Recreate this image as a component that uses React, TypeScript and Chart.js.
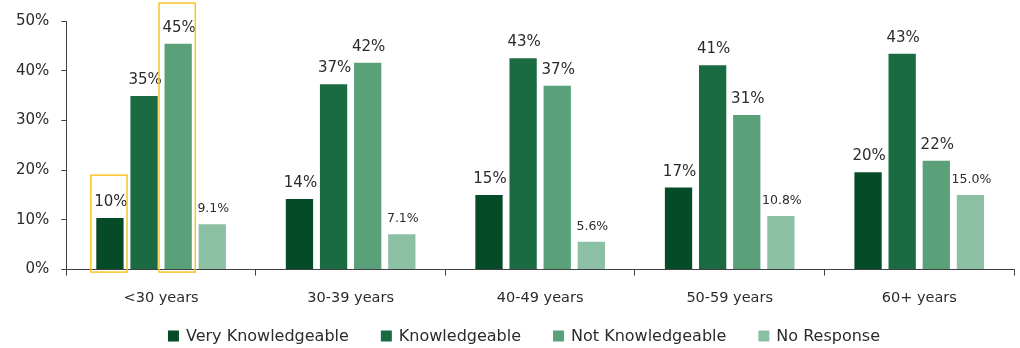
import React, { useEffect, useRef } from "react";
import { Chart, registerables } from "chart.js";

Chart.register(...registerables);

const categories = ["<30 years", "30-39 years", "40-49 years", "50-59 years", "60+ years"];
const seriesNames = ["Very Knowledgeable", "Knowledgeable", "Not Knowledgeable", "No Response"];
const veryKnowledgeable = [10.4, 14.2, 15.0, 16.5, 19.6];
const knowledgeable = [34.9, 37.3, 42.5, 41.1, 43.4];
const notKnowledgeable = [45.4, 41.6, 37.0, 31.1, 21.9];
const noResponse = [9.1, 7.1, 5.6, 10.8, 15.0];
const labelDecimals = [0, 0, 0, 1];
const seriesColors = ["#064b27", "#1b6b42", "#5aa17a", "#8cc0a4"];
const yTicks = [0, 10, 20, 30, 40, 50];
// highlight boxes: [datasetIndex, categoryIndex, top value]
const highlights = [
  [0, 0, 19],
  [2, 0, 53.6],
];

const FONT = "'DejaVu Sans', sans-serif";
const TEXT = "#2b2b2b";

const labelPlugin = {
  id: "barLabels",
  afterDatasetsDraw(chart: any) {
    const ctx = chart.ctx;
    ctx.save();
    chart.data.datasets.forEach((ds: any, di: number) => {
      const meta = chart.getDatasetMeta(di);
      meta.data.forEach((el: any, i: number) => {
        const v = ds.data[i];
        const dec = labelDecimals[di];
        const txt = (dec === 0 ? Math.round(v).toString() : v.toFixed(dec)) + "%";
        ctx.font = (di === 3 ? "12.5px " : "15px ") + FONT;
        ctx.fillStyle = TEXT;
        ctx.textAlign = "center";
        ctx.textBaseline = "alphabetic";
        ctx.fillText(txt, el.x + 1, el.y - 12);
      });
    });
    // highlight rectangles
    ctx.strokeStyle = "#f7c52a";
    ctx.lineWidth = 1.5;
    const yScale = chart.scales.y;
    highlights.forEach(([di, ci, top]) => {
      const el: any = chart.getDatasetMeta(di).data[ci];
      const left = el.x - el.width / 2 - 5.5;
      const right = el.x + el.width / 2 + 3.5;
      const t = yScale.getPixelForValue(top);
      const b = yScale.getPixelForValue(0) + 2.5;
      ctx.strokeRect(left, t, right - left, b - t);
    });
    ctx.restore();
  },
};

const legendPlugin = {
  id: "bottomLegend",
  afterDraw(chart: any) {
    const ctx = chart.ctx;
    ctx.save();
    ctx.font = "16px " + FONT;
    const box = 11;
    const boxGap = 7;
    const itemGap = 32;
    const widths = seriesNames.map((n) => box + boxGap + ctx.measureText(n).width);
    const total = widths.reduce((a, b) => a + b, 0) + itemGap * (seriesNames.length - 1);
    let x = chart.width / 2 + 14 - total / 2;
    const cy = 336;
    seriesNames.forEach((n, i) => {
      ctx.fillStyle = seriesColors[i];
      ctx.fillRect(x, cy - box / 2, box, box);
      ctx.fillStyle = TEXT;
      ctx.textAlign = "left";
      ctx.textBaseline = "middle";
      ctx.fillText(n, x + box + boxGap, cy + 1);
      x += widths[i] + itemGap;
    });
    ctx.restore();
  },
};

export default function App() {
  const ref = useRef<HTMLCanvasElement>(null);
  useEffect(() => {
    const seriesData = [veryKnowledgeable, knowledgeable, notKnowledgeable, noResponse];
    const chart = new Chart(ref.current!, {
      type: "bar",
      data: {
        labels: categories,
        datasets: seriesNames.map((n, i) => ({
          label: n,
          data: seriesData[i],
          backgroundColor: seriesColors[i],
          categoryPercentage: 0.72,
          barPercentage: 0.8,
        })),
      },
      options: {
        animation: false,
        responsive: false,
        maintainAspectRatio: false,
        layout: { padding: { left: 4, right: 6, top: 18, bottom: 27 } },
        plugins: {
          tooltip: { enabled: false },
          legend: { display: false },
        },
        scales: {
          x: {
            grid: { drawOnChartArea: false, offset: true, tickLength: 6, color: "#404040" },
            border: { color: "#404040", width: 1 },
            ticks: { color: TEXT, font: { family: FONT, size: 14.5 }, padding: 14 },
          },
          y: {
            min: 0,
            max: 50,
            afterBuildTicks: (s: any) => {
              s.ticks = yTicks.map((v) => ({ value: v }));
            },
            grid: { drawOnChartArea: false, tickLength: 5, color: "#404040" },
            border: { color: "#404040", width: 1 },
            ticks: {
              color: TEXT,
              font: { family: FONT, size: 15 },
              padding: 12,
              callback: (v: any) => v + "%",
            },
          },
        },
      },
      plugins: [labelPlugin, legendPlugin],
    });
    return () => chart.destroy();
  }, []);
  return (
    <div style={{ position: "absolute", left: 0, top: 0, width: 1020, height: 348, background: "#fff" }}>
      <canvas ref={ref} width={1020} height={348} />
    </div>
  );
}
